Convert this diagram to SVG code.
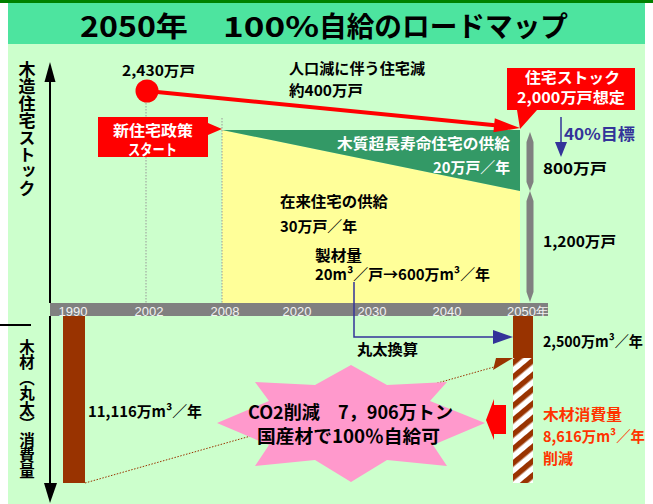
<svg xmlns="http://www.w3.org/2000/svg" width="653" height="504" viewBox="0 0 653 504">
<defs>
<style>
text{font-family:"Noto Sans CJK JP","Liberation Sans",sans-serif;font-weight:bold;}
.b{fill:#000;font-size:15px;}
.w{fill:#fff;font-size:15px;}
.ax{fill:#f2f2f2;font-family:"Liberation Sans",sans-serif;font-weight:normal;font-size:13px;text-anchor:middle;}
.o{fill:#ff3300;font-size:15px;}
.dot{stroke:#999;stroke-width:1;stroke-dasharray:1.5 1.5;fill:none;}
</style>
<pattern id="hatch" patternUnits="userSpaceOnUse" width="11" height="11" patternTransform="rotate(-40)">
<rect x="0" y="0" width="11" height="11" fill="#fff"/>
<rect x="0" y="0" width="11" height="5.5" fill="#993300"/>
</pattern>
</defs>
<rect x="0" y="0" width="653" height="504" fill="#fff"/>
<rect x="8" y="3" width="637" height="501" fill="#ccffcc"/>
<rect x="0" y="0" width="653" height="3" fill="#008000"/>
<g id="title">
<rect x="8" y="3" width="637" height="41" fill="#4de49f"/>
<text x="80" y="37" font-size="28" textLength="108" lengthAdjust="spacingAndGlyphs">2050年</text>
<text x="223" y="37" font-size="28" textLength="96" lengthAdjust="spacingAndGlyphs">100%</text>
<text x="319" y="37" font-size="28" textLength="249" lengthAdjust="spacingAndGlyphs">自給のロードマップ</text>
</g>
<g id="regions">
<polygon points="222,130 520,191 520,303 222,303" fill="#ffff99"/>
<polygon points="222,130 520,130 520,191" fill="#339966"/>
</g>
<g id="guides">
<line class="dot" x1="146" y1="100" x2="146" y2="303"/>
<line class="dot" x1="222" y1="118" x2="222" y2="303"/>
</g>
<g id="axis-stock">
<line x1="50" y1="80" x2="50" y2="303" stroke="#000" stroke-width="2"/>
<polygon points="50,62 44.5,82 55.5,82" fill="#000"/>
<text x="27" y="61" font-size="17" style="writing-mode:vertical-rl" fill="#000">木造住宅ストック</text>
</g>
<g id="axis-wood">
<line x1="0" y1="325" x2="31" y2="325" stroke="#000" stroke-width="2"/>
<line x1="50" y1="316" x2="50" y2="486" stroke="#000" stroke-width="2"/>
<polygon points="50,503 44,483 57,483" fill="#000"/>
<text x="27" y="339" font-size="15.5" style="writing-mode:vertical-rl" fill="#000">木材（丸太）消費量</text>
</g>
<g id="bar-1990">
<rect x="63" y="316" width="22" height="167" fill="#993300"/>
<text class="b" x="88" y="417" textLength="114" lengthAdjust="spacingAndGlyphs">11,116万m³／年</text>
</g>
<g id="bar-2050">
<rect x="513" y="316" width="20" height="42" fill="#993300"/>
<rect x="513" y="358" width="20" height="125" fill="url(#hatch)"/>
<text class="b" x="543" y="347" textLength="100" lengthAdjust="spacingAndGlyphs">2,500万m³／年</text>
</g>
<g id="time-axis">
<rect x="50" y="303" width="498" height="13" fill="#808080"/>
<text class="ax" x="73" y="316">1990</text>
<text class="ax" x="149" y="316">2002</text>
<text class="ax" x="225" y="316">2008</text>
<text class="ax" x="297" y="316">2020</text>
<text class="ax" x="372" y="316">2030</text>
<text class="ax" x="447" y="316">2040</text>
<text class="ax" x="528" y="316">2050年</text>
</g>
<g id="connectors">
<line x1="147" y1="91" x2="495" y2="125.2" stroke="#ff0000" stroke-width="4"/>
<polygon points="520,128 493.4,132.3 494.8,118.3" fill="#ff0000"/>
<polyline points="354,282 354,337 494,337" fill="none" stroke="#333399" stroke-width="1.5"/>
<polygon points="493,330 513,337 493,344" fill="#333399"/>
<line x1="561" y1="117" x2="561" y2="143" stroke="#333399" stroke-width="1.5"/>
<polygon points="555,142 567,142 561,157" fill="#333399"/>
<line x1="85" y1="483" x2="494" y2="367" stroke="#993300" stroke-width="1" stroke-dasharray="1.5 1.5"/>
<polygon points="496,358 513,358 493,370" fill="#993300"/>
<polygon points="530,132 533.5,142 533.5,182 530,191 526.5,182 526.5,142" fill="#808080"/>
<polygon points="530,191 533.5,201 533.5,292 530,302 526.5,292 526.5,201" fill="#808080"/>
<polygon points="486,420 494,399 494,405 506,405 506,434 494,434 494,440" fill="#ff0000"/>
</g>
<g id="start-2430">
<circle cx="147" cy="91" r="11.5" fill="#ff0000"/>
<text x="122" y="76" font-size="14" textLength="73" lengthAdjust="spacingAndGlyphs" fill="#000">2,430万戸</text>
</g>
<g id="decrease">
<text class="b" x="289" y="74" textLength="136" lengthAdjust="spacingAndGlyphs">人口減に伴う住宅減</text>
<text class="b" x="289" y="96" textLength="74" lengthAdjust="spacingAndGlyphs">約400万戸</text>
</g>
<g id="policy-callout">
<polygon points="98,117 208,117 208,123 222,129 208,135 208,157 98,157" fill="#ff0000"/>
<text class="w" x="113" y="136" font-size="16" textLength="80" lengthAdjust="spacingAndGlyphs">新住宅政策</text>
<text class="w" x="128" y="155" textLength="49" lengthAdjust="spacingAndGlyphs">スタート</text>
</g>
<g id="stock-callout">
<polygon points="507,68 635,68 635,110 537,110 520,129 517,110 507,110" fill="#ff0000"/>
<text class="w" x="525" y="83" font-size="14.5" textLength="95" lengthAdjust="spacingAndGlyphs">住宅ストック</text>
<text class="w" x="517" y="103" font-size="14.5" textLength="108" lengthAdjust="spacingAndGlyphs">2,000万戸想定</text>
</g>
<g id="target">
<text x="564" y="140" font-size="16" fill="#333399" textLength="71" lengthAdjust="spacingAndGlyphs">40%目標</text>
</g>
<g id="long-life">
<text class="w" x="337" y="149" textLength="173" lengthAdjust="spacingAndGlyphs">木質超長寿命住宅の供給</text>
<text class="w" x="433" y="173" textLength="77" lengthAdjust="spacingAndGlyphs">20万戸／年</text>
</g>
<g id="stock-800">
<text class="b" x="543" y="174" textLength="64" lengthAdjust="spacingAndGlyphs">800万戸</text>
</g>
<g id="stock-1200">
<text class="b" x="543" y="247" textLength="73" lengthAdjust="spacingAndGlyphs">1,200万戸</text>
</g>
<g id="conventional">
<text class="b" x="280" y="207" textLength="108" lengthAdjust="spacingAndGlyphs">在来住宅の供給</text>
<text class="b" x="280" y="232" textLength="77" lengthAdjust="spacingAndGlyphs">30万戸／年</text>
<text class="b" x="315" y="261" textLength="47" lengthAdjust="spacingAndGlyphs">製材量</text>
<text class="b" x="315" y="280" textLength="175" lengthAdjust="spacingAndGlyphs">20m³／戸→600万m³／年</text>
</g>
<g id="log-conv">
<text class="b" x="357" y="355" textLength="61" lengthAdjust="spacingAndGlyphs">丸太換算</text>
</g>
<g id="co2-star">
<polygon points="351,365 387,385 447,382 430,401 485,423 433,445 447,466 387,460 351,482 315,460 255,466 269,445 217,423 269,401 255,382 315,385" fill="#ff99cc"/>
<text x="248" y="419" font-size="18" fill="#000" textLength="205" lengthAdjust="spacingAndGlyphs">CO2削減　7，906万トン</text>
<text x="257" y="443" font-size="18" fill="#000" textLength="183" lengthAdjust="spacingAndGlyphs">国産材で100％自給可</text>
</g>
<g id="reduction">
<text class="o" x="543" y="420" textLength="79" lengthAdjust="spacingAndGlyphs">木材消費量</text>
<text class="o" x="543" y="442" textLength="102" lengthAdjust="spacingAndGlyphs">8,616万m³／年</text>
<text class="o" x="543" y="464" textLength="30" lengthAdjust="spacingAndGlyphs">削減</text>
</g>
</svg>
